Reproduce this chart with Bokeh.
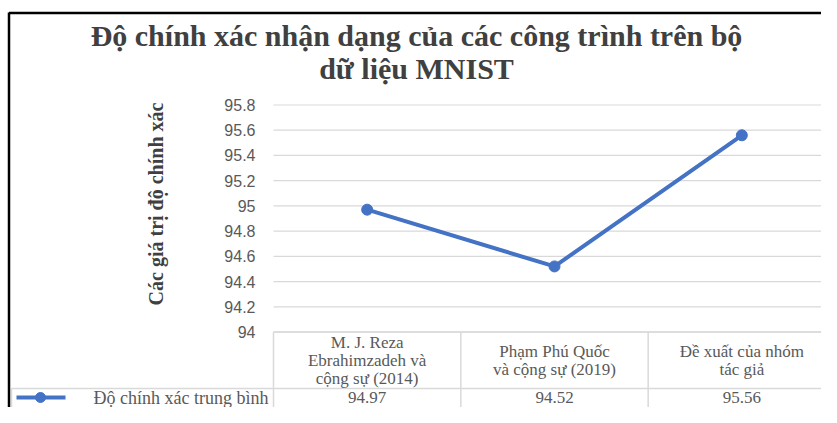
from bokeh.plotting import figure
from bokeh.models import Range1d, LinearAxis, FixedTicker, ColumnDataSource
from bokeh.core.properties import value
from bokeh.embed import file_html
from bokeh.resources import INLINE

# ---------------- data ----------------
title_lines = ["Độ chính xác nhận dạng của các công trình trên bộ", "dữ liệu MNIST"]
y_axis_title = "Các giá trị độ chính xác"
series_name = "Độ chính xác trung bình"
categories = [
    ["M. J. Reza", "Ebrahimzadeh và", "cộng sự (2014)"],
    ["Phạm Phú Quốc", "và cộng sự (2019)"],
    ["Đề xuất của nhóm", "tác giả"],
]
accuracy = [94.97, 94.52, 95.56]
y_ticks = [94.0, 94.2, 94.4, 94.6, 94.8, 95.0, 95.2, 95.4, 95.6, 95.8]

# ---------------- layout helpers (canvas pixels -> data) ----------------
W, H = 821, 407
X_LEFT = 273.0          # canvas x of left edge of first category
X_UNIT = (835.0 - 273.0) / 3.0
Y_BASE = 331.5          # canvas y of value 94
Y_UNIT = 227.0 / 1.8


def dx(px):
    return (px - X_LEFT) / X_UNIT


def dy(py):
    return y_ticks[0] + (Y_BASE - py) / Y_UNIT


BLUE = "#4472C4"
GRID = "#d9d9d9"
TXT = "#595959"
DARK = "#404040"
SERIF = "Liberation Serif"

p = figure(width=W, height=H, output_backend="svg", toolbar_location=None,
           x_range=Range1d(dx(0), dx(W)),
           y_range=Range1d(dy(H), dy(0)),
           x_axis_location=None, y_axis_location=None, min_border=0)
p.outline_line_color = None
p.background_fill_color = "white"
p.border_fill_color = "white"
p.xgrid.visible = False
p.ygrid.visible = False

ncat = len(categories)

# gridlines (plot area only)
p.segment(x0=[0] * len(y_ticks), x1=[ncat] * len(y_ticks), y0=y_ticks, y1=y_ticks,
          line_color=GRID, line_width=1.2)

# y axis at the left edge of the plot area
yaxis = LinearAxis(fixed_location=0, ticker=FixedTicker(ticks=y_ticks))
yaxis.major_label_overrides = {t: f"{t:g}" for t in y_ticks}
yaxis.axis_line_color = None
yaxis.major_tick_line_color = None
yaxis.minor_tick_line_color = None
yaxis.major_tick_out = 0
yaxis.major_tick_in = 0
yaxis.major_label_standoff = 18
yaxis.major_label_text_font = "Liberation Sans"
yaxis.major_label_text_font_size = "16px"
yaxis.major_label_text_color = TXT
yaxis.axis_label = y_axis_title
yaxis.axis_label_text_font = SERIF
yaxis.axis_label_text_font_style = "bold"
yaxis.axis_label_text_font_size = "20px"
yaxis.axis_label_text_color = DARK
yaxis.axis_label_standoff = 54
p.add_layout(yaxis, "left")

# ---------------- data table ----------------
row_top = Y_BASE
row_mid = 388.0
row_bot = 420.0
# horizontal lines
p.segment(x0=[0, dx(11)], x1=[ncat, ncat], y0=[dy(row_top), dy(row_mid)], y1=[dy(row_top), dy(row_mid)],
          line_color=GRID, line_width=1.5)
# vertical lines
vx = list(range(ncat + 1))
p.segment(x0=vx, x1=vx, y0=[dy(row_top)] * len(vx), y1=[dy(row_bot)] * len(vx),
          line_color=GRID, line_width=1.5)
p.segment(x0=[dx(11)], x1=[dx(11)], y0=[dy(row_mid)], y1=[dy(row_bot)],
          line_color=GRID, line_width=1.5)

# header texts
LH = 18.0
hx, hy, ht = [], [], []
center = (row_top + row_mid) / 2
for i, lines in enumerate(categories):
    n = len(lines)
    for j, s in enumerate(lines):
        hx.append(i + 0.5)
        hy.append(dy(center + (j - (n - 1) / 2) * LH))
        ht.append(s)
p.text(x="x", y="y", text="text", source=ColumnDataSource(dict(x=hx, y=hy, text=ht)),
       text_font=value(SERIF), text_font_size="17px", text_color=TXT,
       text_align="center", text_baseline="middle")

# value row
val_y = 397.0
p.text(x=[i + 0.5 for i in range(ncat)], y=[dy(val_y)] * ncat, text=[f"{v:.2f}" for v in accuracy],
       text_font=value(SERIF), text_font_size="17px", text_color=TXT,
       text_align="center", text_baseline="middle")
p.text(x=[dx(268)], y=[dy(val_y)], text=[series_name],
       text_font=value(SERIF), text_font_size="18px", text_color=TXT,
       text_align="right", text_baseline="middle")
# legend key
p.line(x=[dx(16), dx(65)], y=[dy(val_y), dy(val_y)], line_color=BLUE, line_width=4)
p.scatter(x=[dx(40)], y=[dy(val_y)], size=10, color=BLUE)

# ---------------- series ----------------
xs = [i + 0.5 for i in range(ncat)]
p.line(x=xs, y=accuracy, line_color=BLUE, line_width=4)
p.scatter(x=xs, y=accuracy, size=11, color=BLUE)

# ---------------- title ----------------
p.text(x=[dx(416), dx(416)], y=[dy(35), dy(68)], text=title_lines,
       text_font=value(SERIF), text_font_size="30px", text_font_style="bold",
       text_color=DARK, text_align="center", text_baseline="middle")

# ---------------- chart border (top & left) ----------------
p.segment(x0=[dx(8.5), dx(8.5)], x1=[dx(840), dx(8.5)], y0=[dy(12.5), dy(12)], y1=[dy(12.5), dy(430)],
          line_color="black", line_width=2.5)

open("out.html", "w").write(file_html(p, INLINE))
